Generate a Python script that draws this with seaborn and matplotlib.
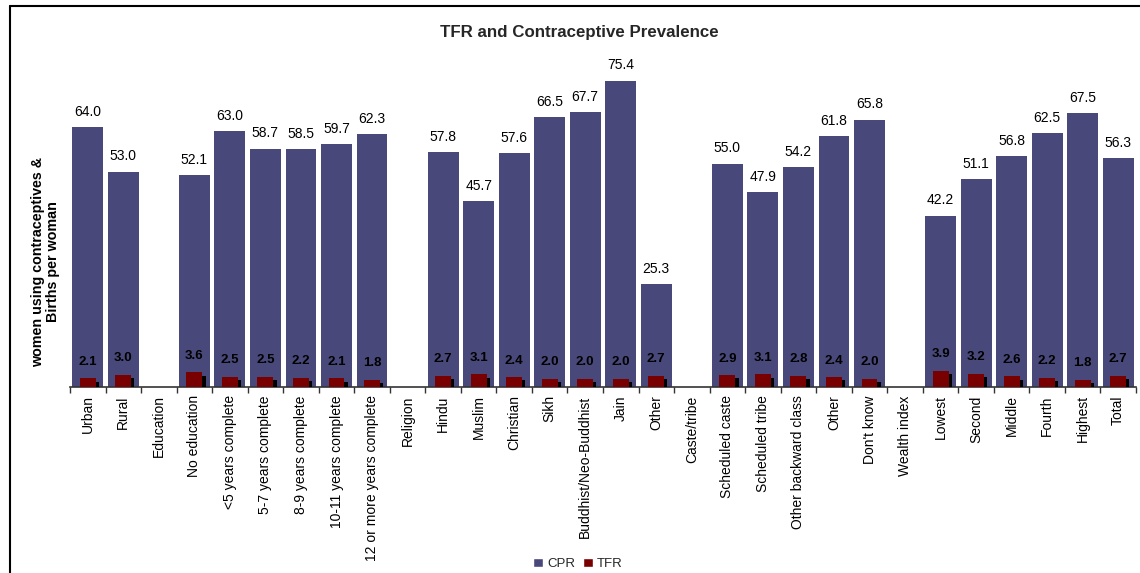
import numpy as np
import pandas as pd
import matplotlib
matplotlib.use("Agg")
import matplotlib.pyplot as plt
import matplotlib.patheffects as pe
from matplotlib.lines import Line2D
from matplotlib.patches import Patch
import seaborn as sns

categories = [
    "Urban", "Rural", "Education", "No education", "<5 years complete",
    "5-7 years complete", "8-9 years complete", "10-11 years complete",
    "12 or more years complete", "Religion", "Hindu", "Muslim", "Christian",
    "Sikh", "Buddhist/Neo-Buddhist", "Jain", "Other", "Caste/tribe",
    "Scheduled caste", "Scheduled tribe", "Other backward class", "Other",
    "Don't know", "Wealth index", "Lowest", "Second", "Middle", "Fourth",
    "Highest", "Total",
]
nan = np.nan
cpr = [64.0, 53.0, nan, 52.1, 63.0, 58.7, 58.5, 59.7, 62.3, nan,
       57.8, 45.7, 57.6, 66.5, 67.7, 75.4, 25.3, nan,
       55.0, 47.9, 54.2, 61.8, 65.8, nan,
       42.2, 51.1, 56.8, 62.5, 67.5, 56.3]
tfr = [2.1, 3.0, nan, 3.6, 2.5, 2.5, 2.2, 2.1, 1.8, nan,
       2.7, 3.1, 2.4, 2.0, 2.0, 2.0, 2.7, nan,
       2.9, 3.1, 2.8, 2.4, 2.0, nan,
       3.9, 3.2, 2.6, 2.2, 1.8, 2.7]

CPR_COLOR = "#48487a"
TFR_COLOR = "#780000"

sns.set_theme(style="white")
plt.rcParams["font.family"] = ["Liberation Sans", "DejaVu Sans"]

df = pd.DataFrame({"pos": np.arange(len(categories)), "cpr": cpr, "tfr": tfr})

fig = plt.figure(figsize=(11.4, 5.73), dpi=100)
ax = fig.add_axes([70 / 1140, 1 - 387 / 573, 1066 / 1140, 325 / 573])

sns.barplot(data=df, x="pos", y="cpr", color=CPR_COLOR, width=0.87,
            saturation=1, ax=ax, errorbar=None, linewidth=0, zorder=2)
n_cpr = len(ax.patches)
sns.barplot(data=df, x="pos", y="tfr", color=TFR_COLOR, width=0.45,
            saturation=1, ax=ax, errorbar=None, linewidth=0, zorder=3)
# drop shadow behind the TFR bars
for p in ax.patches[n_cpr:]:
    p.set_path_effects([pe.SimplePatchShadow(offset=(2.3, -2.3),
                                             shadow_rgbFace="black", alpha=1.0),
                        pe.Normal()])

for i, (c, t) in enumerate(zip(cpr, tfr)):
    if not np.isnan(c):
        ax.annotate(f"{c:.1f}", (i, c), xytext=(0, 11), textcoords="offset points",
                    ha="center", va="center", fontsize=10, color="black")
    if not np.isnan(t):
        ax.annotate(f"{t:.1f}", (i, t), xytext=(0, 12), textcoords="offset points",
                    ha="center", va="center", fontsize=9.5, fontweight="bold",
                    color="black")

ax.set_xlim(-0.5, len(categories) - 0.5)
ax.set_ylim(0, 80)
ax.set_xlabel("")
ax.set_ylabel("women using contraceptives &\nBirths per woman", fontsize=10.3,
              fontweight="bold", color="black", linespacing=1.05, va="center")
ax.yaxis.set_label_coords(-0.023, 0.385)
ax.set_yticks([])

ax.set_xticks(np.arange(len(categories)))
ax.set_xticklabels(categories, rotation=90, fontsize=10, color="black")
ax.set_xticks(np.arange(len(categories) + 1) - 0.5, minor=True)
ax.tick_params(axis="x", which="major", length=0, pad=6)
ax.tick_params(axis="x", which="minor", length=4, width=1, color="#333333",
               direction="out", bottom=True)

for s in ["left", "top", "right"]:
    ax.spines[s].set_visible(False)
ax.spines["bottom"].set_color("#333333")
ax.spines["bottom"].set_linewidth(1.2)

fig.text(579 / 1140, 1 - 33 / 573, "TFR and Contraceptive Prevalence",
         ha="center", va="center", fontsize=12.2, fontweight="bold")

handles = [Patch(facecolor=CPR_COLOR, label="CPR"),
           Patch(facecolor=TFR_COLOR, label="TFR")]
fig.legend(handles=handles, loc="center", bbox_to_anchor=(578 / 1140, 1 - 564 / 573),
           ncol=2, frameon=False, fontsize=9.5, handlelength=0.75, handleheight=0.75,
           handletextpad=0.3, columnspacing=0.6)

# outer frame lines
fig.add_artist(Line2D([10 / 1140, 1.0], [1 - 6 / 573, 1 - 6 / 573],
                      transform=fig.transFigure, color="black", lw=1.5))
fig.add_artist(Line2D([10 / 1140, 10 / 1140], [0.0, 1 - 6 / 573],
                      transform=fig.transFigure, color="black", lw=1.5))

fig.savefig("out.png", dpi=100)
